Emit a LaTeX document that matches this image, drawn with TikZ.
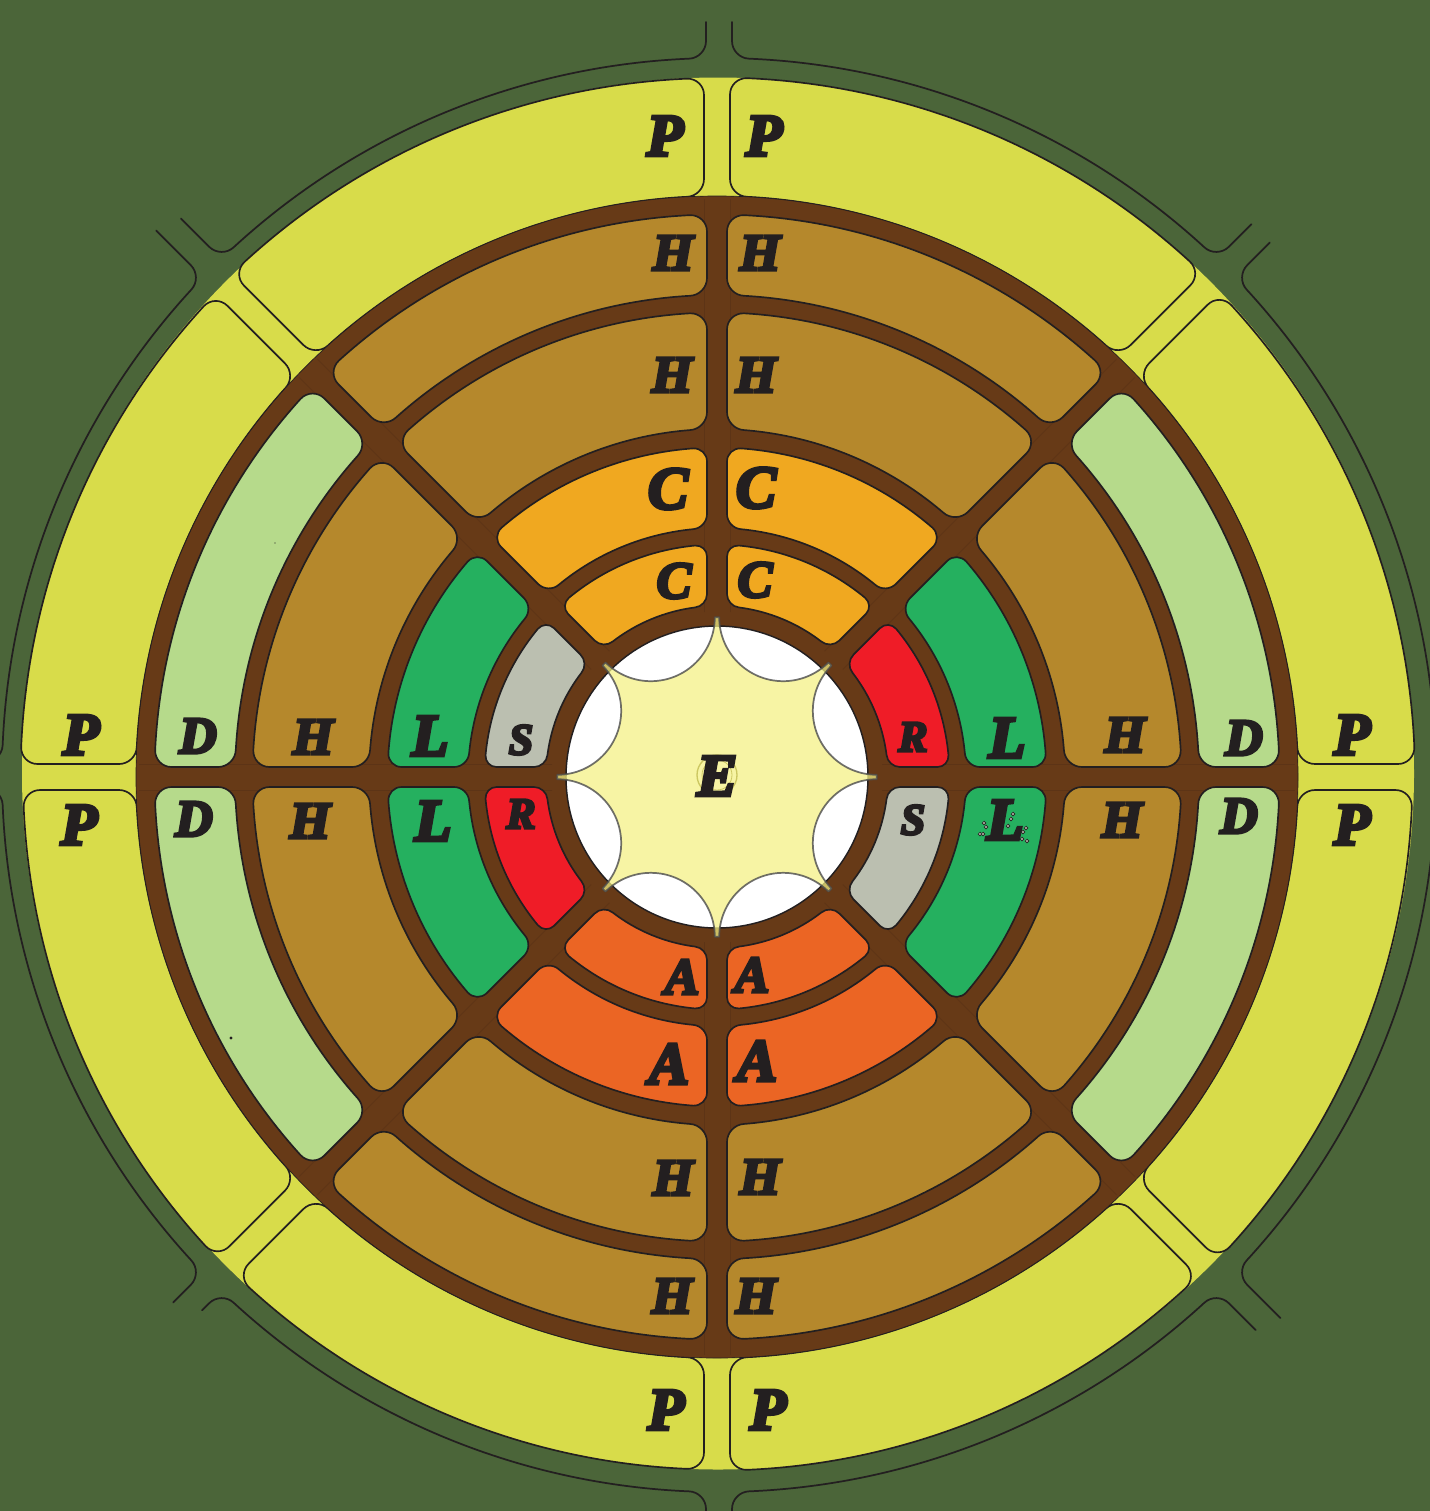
\documentclass[tikz,border=0pt]{standalone}
\usepackage{fontspec}
\usepackage{tikz}
\usetikzlibrary{calc}
\newfontfamily\tilefont[BoldItalicFeatures={FakeBold=6}]{Liberation Serif}

\definecolor{colGround}{RGB}{75,101,57}
\definecolor{colP}{RGB}{216,220,74}
\definecolor{colBrown}{RGB}{103,58,23}
\definecolor{colSeam}{RGB}{93,52,22}
\definecolor{colH}{RGB}{181,136,44}
\definecolor{colD}{RGB}{182,218,139}
\definecolor{colL}{RGB}{37,176,95}
\definecolor{colC}{RGB}{240,168,32}
\definecolor{colA}{RGB}{235,101,36}
\definecolor{colR}{RGB}{239,28,39}
\definecolor{colS}{RGB}{187,191,176}
\definecolor{colStar}{RGB}{244,241,130}
\definecolor{colInk}{RGB}{35,31,32}

\tikzset{
  tileline/.style={draw=colInk,line width=1.25pt,line join=round},
  roadline/.style={draw=colInk,line width=1.3pt,line cap=round},
  biglabel/.style={text=colInk,inner sep=0pt,font=\tilefont\bfseries\itshape\fontsize{45}{45}\selectfont},
  midlabel/.style={text=colInk,inner sep=0pt,font=\tilefont\bfseries\itshape\fontsize{39}{39}\selectfont},
  smalllabel/.style={text=colInk,inner sep=0pt,font=\tilefont\bfseries\itshape\fontsize{33}{33}\selectfont},
}

% half width of the gap, size of the corner
\def\tilegap{10}
\def\tilecorner{17}

% #1,#2 angles  #3,#4 radii  #5 fill
\newcommand{\ringtile}[5]{%
  \pgfmathsetmacro\dOut{asin(\tilegap/#4)}
  \pgfmathsetmacro\dIn{asin(\tilegap/#3)}
  \pgfmathsetmacro\cOut{\tilecorner/#4*180/pi}
  \pgfmathsetmacro\cIn{\tilecorner/#3*180/pi}
  \coordinate (ua) at ($(#1:#4-\tilecorner)+(#1+90:\tilegap)$);
  \coordinate (ub) at (#1+\dOut:#4);
  \coordinate (uc) at (#1+\dOut+\cOut:#4);
  \coordinate (va) at (#2-\dOut-\cOut:#4);
  \coordinate (vb) at (#2-\dOut:#4);
  \coordinate (vc) at ($(#2:#4-\tilecorner)+(#2-90:\tilegap)$);
  \coordinate (wa) at ($(#2:#3+\tilecorner)+(#2-90:\tilegap)$);
  \coordinate (wb) at (#2-\dIn:#3);
  \coordinate (wc) at (#2-\dIn-\cIn:#3);
  \coordinate (xa) at (#1+\dIn+\cIn:#3);
  \coordinate (xb) at (#1+\dIn:#3);
  \coordinate (xc) at ($(#1:#3+\tilecorner)+(#1+90:\tilegap)$);
  \draw[tileline,fill=#5]
    (ua) .. controls ($(ua)!0.55!(ub)$) and ($(uc)!0.55!(ub)$) .. (uc)
    arc[start angle=#1+\dOut+\cOut,end angle=#2-\dOut-\cOut,radius=#4]
    .. controls ($(va)!0.55!(vb)$) and ($(vc)!0.55!(vb)$) .. (vc)
    -- (wa) .. controls ($(wa)!0.55!(wb)$) and ($(wc)!0.55!(wb)$) .. (wc)
    arc[start angle=#2-\dIn-\cIn,end angle=#1+\dIn+\cIn,radius=#3]
    .. controls ($(xa)!0.55!(xb)$) and ($(xc)!0.55!(xb)$) .. (xc) -- cycle;
}

% #1,#2 angles  #3 radius  #4,#5 stub ends
\newcommand{\roadpiece}[5]{%
  \pgfmathsetmacro\dOut{asin(\tilegap/#3)}
  \pgfmathsetmacro\cOut{\tilecorner/#3*180/pi}
  \coordinate (ua) at ($(#1:#3+\tilecorner)+(#1+90:\tilegap)$);
  \coordinate (ub) at (#1+\dOut:#3);
  \coordinate (uc) at (#1+\dOut+\cOut:#3);
  \coordinate (va) at (#2-\dOut-\cOut:#3);
  \coordinate (vb) at (#2-\dOut:#3);
  \coordinate (vc) at ($(#2:#3+\tilecorner)+(#2-90:\tilegap)$);
  \draw[roadline]
    ($(#1:#4)+(#1+90:\tilegap)$) -- (ua)
    .. controls ($(ua)!0.55!(ub)$) and ($(uc)!0.55!(ub)$) .. (uc)
    arc[start angle=#1+\dOut+\cOut,end angle=#2-\dOut-\cOut,radius=#3]
    .. controls ($(va)!0.55!(vb)$) and ($(vc)!0.55!(vb)$) .. (vc)
    -- ($(#2:#5)+(#2-90:\tilegap)$);
}

\begin{document}
\begin{tikzpicture}[x=0.75pt,y=0.75pt,yscale=-1,xscale=1]
\clip (0,0) rectangle (1430,1511);

%Shape: Ground
\fill [colGround] (0,0) rectangle (1430,1511);

%Shape: Outer road
\begin{scope}[shift={(719,775)}]
\def\tilegap{13}
\foreach \a/\s/\t in {0/780/781,45/772/752,90/752/744,135/759/780,180/780/783,225/774/753,270/753/766,315/766/780}{
  \pgfmathsetmacro\b{\a+45}
  \roadpiece{\a}{\b}{717}{\s}{\t}
}
\end{scope}

%Shape: Yellow disc
\fill [colP] (718,773.5) circle (696);

\begin{scope}[shift={(717,777)}]
%Shape: Yellow tiles
\begin{scope}
\def\tilegap{13}
\foreach \a/\r in {0/695.5,45/693.5,90/692.5,135/694,180/696.5,225/699,270/699.5,315/698}{
  \pgfmathsetmacro\b{\a+45}
  \ringtile{\a}{\b}{581}{\r}{colP}
}
\end{scope}

%Shape: Brown disc
\draw [draw=colInk,line width=0.5pt,fill=colBrown] (0,0) circle (581);

%Shape: Seams in the brown
\foreach \a in {0,45,...,315}{
  \draw [colSeam,line width=0.6pt] ($(\a:165)+(\a+90:13)$) -- ($(\a:578)+(\a+90:13)$);
  \draw [colSeam,line width=0.6pt] ($(\a:165)+(\a-90:13)$) -- ($(\a:578)+(\a-90:13)$);
}

%Shape: Ring tiles
\foreach \a/\colone/\coltwo/\colthree/\colfour in {
  0/colS/colL/colH/colD,45/colA/colA/colH/colH,90/colA/colA/colH/colH,135/colR/colL/colH/colD,
  180/colS/colL/colH/colD,225/colC/colC/colH/colH,270/colC/colC/colH/colH,315/colR/colL/colH/colD}{
  \pgfmathsetmacro\b{\a+45}
  \def\tilecorner{12}
  \ringtile{\a}{\b}{171}{232.5}{\colone}
  \def\tilecorner{14}
  \ringtile{\a}{\b}{249}{329.5}{\coltwo}
  \def\tilecorner{17}
  \ringtile{\a}{\b}{348}{464.5}{\colthree}
  \ringtile{\a}{\b}{482}{562.5}{\colfour}
}

%Shape: White centre
\draw [draw=colInk,line width=1.1pt,fill=white] (0,0) circle (151);

%Shape: Star
\draw [draw=black!70,line width=1.3pt,draw opacity=0.8,fill=colStar,fill opacity=0.72,line join=round]
  ($(22.5:173)+(-90:64)$)
  \foreach \m in {22.5,67.5,...,337.5}{
    arc[start angle=\m-112.5,end angle=\m-247.5,radius=64] -- ++(\m+112.5:4.4)
  } -- cycle;

%Shape: Faint rings behind the letter
\draw [olive!70,line width=1pt,opacity=0.6] (0,-2) circle (20);
\draw [olive!70,line width=0.6pt,opacity=0.6] (0,-2) circle (15);
\end{scope}

%Shape: Stray handles and specks
\foreach \x/\y in {984/823,986/827,980/834,983/834,1008/826,1011/819,1013/814,1026/828,1023/832,1022/839,1027/841}{
  \draw [colInk,line width=0.5pt,fill=colS] (\x,\y) circle (1.8);
}
\fill [colInk] (231,1038) circle (1.6);
\fill [colInk] (275,543) circle (0.6);

%Labels
\foreach \n/\x/\y/\t/\st in {
  pa/665/136/P/biglabel,pb/764/136/P/biglabel,pc/1352/735/P/biglabel,pd/1352/825/P/biglabel,
  pe/666/1410/P/biglabel,pf/768/1410/P/biglabel,pg/81/735/P/biglabel,ph/79/825/P/biglabel,
  ha/673/253/H/midlabel,hb/760/253/H/midlabel,hc/672/375/H/midlabel,hd/756/375/H/midlabel,
  he/1125/735/H/midlabel,hf/1122/820/H/midlabel,hg/313/737/H/midlabel,hh/310/821/H/midlabel,
  hi/673/1178/H/midlabel,hj/760/1177/H/midlabel,hk/672/1296/H/midlabel,hl/756/1296/H/midlabel,
  da/1244/738/D/midlabel,db/1239/816/D/midlabel,dc/198/736/D/midlabel,dd/194/819/D/midlabel,
  la/1007/738/L/biglabel,lb/1005/820/L/biglabel,lc/430/736/L/biglabel,ld/433/821/L/biglabel,
  ca/668/489/C/biglabel,cb/756/488/C/biglabel,cc/674/581/C/midlabel,cd/755/580/C/midlabel,
  aa/682/977/A/midlabel,ab/752/975/A/midlabel,ac/669/1064/A/biglabel,ad/757/1061/A/biglabel,
  ra/913/737/R/smalllabel,rb/521/814/R/smalllabel,sa/913/820/S/smalllabel,sb/521/740/S/smalllabel,
  ea/717/776/E/biglabel}{
  \node [\st] (\n) at (\x,\y) {\t};
}
\end{tikzpicture}
\end{document}
